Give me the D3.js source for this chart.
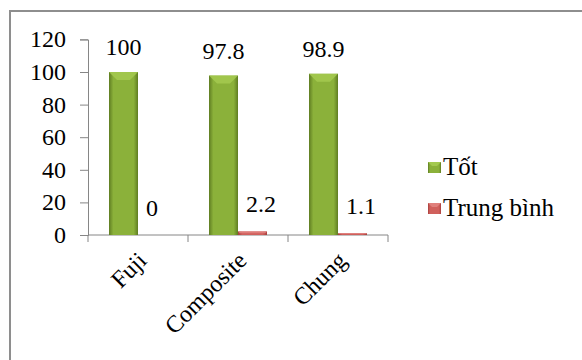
<!DOCTYPE html>
<html><head><meta charset="utf-8"><script src="https://cdn.jsdelivr.net/npm/d3@7"></script></head>
<body style="margin:0">
<svg id="chart" width="582" height="360"></svg>
<script>
const categories = ["Fuji", "Composite", "Chung"];
const seriesNames = ["Tốt", "Trung bình"];
const totValues = [100, 97.8, 98.9];
const trungBinhValues = [0, 2.2, 1.1];
const yTicks = [0, 20, 40, 60, 80, 100, 120];

const svg = d3.select("#chart");
const defs = svg.append("defs");

function hGrad(id, edge, mid) {
  const g = defs.append("linearGradient").attr("id", id).attr("x1", "0").attr("x2", "1").attr("y1", "0").attr("y2", "0");
  g.append("stop").attr("offset", "0").attr("stop-color", edge);
  g.append("stop").attr("offset", "0.15").attr("stop-color", mid);
  g.append("stop").attr("offset", "0.85").attr("stop-color", mid);
  g.append("stop").attr("offset", "1").attr("stop-color", edge);
}
hGrad("gGreen", "#5f7d22", "#8bb13a");
hGrad("gRed", "#a83f3c", "#d0605c");

svg.append("path").attr("d", "M10,370 L10,11 L600,11")
  .attr("fill", "none").attr("stroke", "#8e8e8e").attr("stroke-width", 2);

const x0 = d3.scaleBand().domain(categories).range([88, 388]).paddingInner(0).paddingOuter(0);
const x1 = d3.scaleBand().domain(seriesNames).range([21, 79]).padding(0);
const y = d3.scaleLinear().domain([0, 120]).range([235, 39.4]);

const colors = { "Tốt": "url(#gGreen)", "Trung bình": "url(#gRed)" };
const bevel = { "Tốt": "#a3c94f", "Trung bình": "#e0807c" };

// y axis (lines from the d3 axis, labels added as root-level text)
const yAxis = svg.append("g").attr("transform", "translate(88,0)")
  .call(d3.axisLeft(y).tickValues(yTicks).tickSize(8).tickFormat(""));
yAxis.select(".domain").attr("stroke", "#868686");
yAxis.selectAll(".tick line").attr("stroke", "#868686");
yAxis.selectAll(".tick text").remove();

// x axis lines
const xAxis = svg.append("g").attr("transform", "translate(0,235)");
xAxis.append("line").attr("x1", 88).attr("x2", 388).attr("y1", 0).attr("y2", 0).attr("stroke", "#868686");
const bounds = categories.map(c => x0(c)).concat([x0(categories[categories.length - 1]) + x0.bandwidth()]);
xAxis.selectAll("line.tk").data(bounds).enter().append("line").attr("class", "tk")
  .attr("x1", d => d).attr("x2", d => d).attr("y1", 0).attr("y2", 7).attr("stroke", "#868686");

// bars
categories.forEach((c, i) => {
  [{ s: seriesNames[0], v: totValues[i] }, { s: seriesNames[1], v: trungBinhValues[i] }].forEach(d => {
    const bx = x0(c) + x1(d.s), bw = x1.bandwidth(), by = y(d.v), bh = y(0) - y(d.v);
    if (bh > 0) {
      svg.append("rect").attr("x", bx).attr("y", by).attr("width", bw).attr("height", bh).attr("fill", colors[d.s]);
      const bv = Math.min(8, bh / 2);
      svg.append("path").attr("d", "M" + bx + "," + by + " L" + (bx + bw) + "," + by + " L" + (bx + bw - bv) + "," + (by + bv) + " L" + (bx + bv) + "," + (by + bv) + " Z")
        .attr("fill", bevel[d.s]).attr("opacity", 0.9);
    }
  });
});

// legend swatches
seriesNames.forEach((s, i) => {
  svg.append("rect").attr("x", 428).attr("y", 162 + i * 41).attr("width", 13).attr("height", 11).attr("fill", colors[s]);
  svg.append("path").attr("d", "M428," + (162 + i * 41) + " l13,0 l-4,4 l-5,0 Z").attr("fill", bevel[s]);
});

// ---- all text, appended directly to the svg root ----
yTicks.forEach(t => {
  svg.append("text").attr("x", 66).attr("y", y(t) + 8).attr("font-family", "Liberation Serif").attr("font-size", 24)
    .attr("text-anchor", "end").text(t);
});
categories.forEach((c, i) => {
  const cx = x0(c) + x0.bandwidth() / 2;
  svg.append("text").attr("font-family", "Liberation Serif").attr("font-size", 24)
    .attr("text-anchor", "end")
    .attr("transform", "translate(" + (cx + 10) + "," + 262 + ") rotate(-45)")
    .text(c);
  const gx = x0(c) + x1(seriesNames[0]) + x1.bandwidth() / 2;
  svg.append("text").attr("x", gx).attr("y", y(totValues[i]) - 17).attr("font-family", "Liberation Serif").attr("font-size", 24)
    .attr("text-anchor", "middle").text(totValues[i]);
  const rx = x0(c) + x1(seriesNames[1]) + 8;
  svg.append("text").attr("x", rx).attr("y", y(trungBinhValues[i]) - 19).attr("font-family", "Liberation Serif").attr("font-size", 24)
    .text(trungBinhValues[i]);
});
seriesNames.forEach((s, i) => {
  svg.append("text").attr("x", 443).attr("y", 175 + i * 41).attr("font-family", "Liberation Serif").attr("font-size", 25).text(s);
});
</script>
</body></html>
